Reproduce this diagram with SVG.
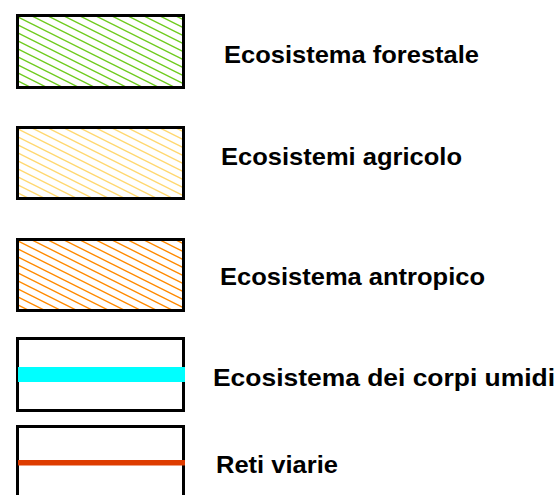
<svg xmlns="http://www.w3.org/2000/svg" width="558" height="495" viewBox="0 0 558 495">
  <style>
    .box { fill: #ffffff; stroke: #000000; stroke-width: 3; }
    .label { font-family: "Liberation Sans", Arial, sans-serif; font-weight: bold; font-size: 24px; fill: #000000; }
  </style>
  <defs>
    <pattern id="hatch-green" patternUnits="userSpaceOnUse" width="16" height="8">
      <rect width="16" height="8" fill="#ffffff"/>
      <path d="M-2,-1 L18,9 M14,-1 L18,1 M-2,7 L2,9" stroke="#6fcc1e" stroke-width="1.4"/>
    </pattern>
    <pattern id="hatch-yellow" patternUnits="userSpaceOnUse" width="16" height="8">
      <rect width="16" height="8" fill="#ffffff"/>
      <path d="M-2,-1 L18,9 M14,-1 L18,1 M-2,7 L2,9" stroke="#ffd870" stroke-width="1.4"/>
    </pattern>
    <pattern id="hatch-orange" patternUnits="userSpaceOnUse" width="16" height="8">
      <rect width="16" height="8" fill="#ffffff"/>
      <path d="M-2,-1 L18,9 M14,-1 L18,1 M-2,7 L2,9" stroke="#ff8a00" stroke-width="1.4"/>
    </pattern>
  </defs>
  <rect width="558" height="495" fill="#ffffff"/>

  <g id="forestale">
    <rect class="box" x="17.5" y="15.5" width="166" height="72" fill="url(#hatch-green)" style="fill:url(#hatch-green)"/>
    <text class="label" x="224" y="63" textLength="255" lengthAdjust="spacingAndGlyphs">Ecosistema forestale</text>
  </g>

  <g id="agricolo">
    <rect class="box" x="17.5" y="127.5" width="166" height="71" style="fill:url(#hatch-yellow)"/>
    <text class="label" x="221" y="165" textLength="241" lengthAdjust="spacingAndGlyphs">Ecosistemi agricolo</text>
  </g>

  <g id="antropico">
    <rect class="box" x="17.5" y="239.5" width="166" height="71" style="fill:url(#hatch-orange)"/>
    <text class="label" x="220" y="285" textLength="265" lengthAdjust="spacingAndGlyphs">Ecosistema antropico</text>
  </g>

  <g id="corpi-umidi">
    <rect class="box" x="17.5" y="338.5" width="166" height="72"/>
    <rect x="18" y="367" width="167" height="15" fill="#00ffff"/>
    <text class="label" x="213" y="386" textLength="342" lengthAdjust="spacingAndGlyphs">Ecosistema dei corpi umidi</text>
  </g>

  <g id="reti-viarie">
    <rect class="box" x="17.5" y="426.5" width="166" height="90"/>
    <rect x="18" y="460" width="167" height="5.5" fill="#de3c00"/>
    <text class="label" x="216" y="473" textLength="122" lengthAdjust="spacingAndGlyphs">Reti viarie</text>
  </g>
</svg>
